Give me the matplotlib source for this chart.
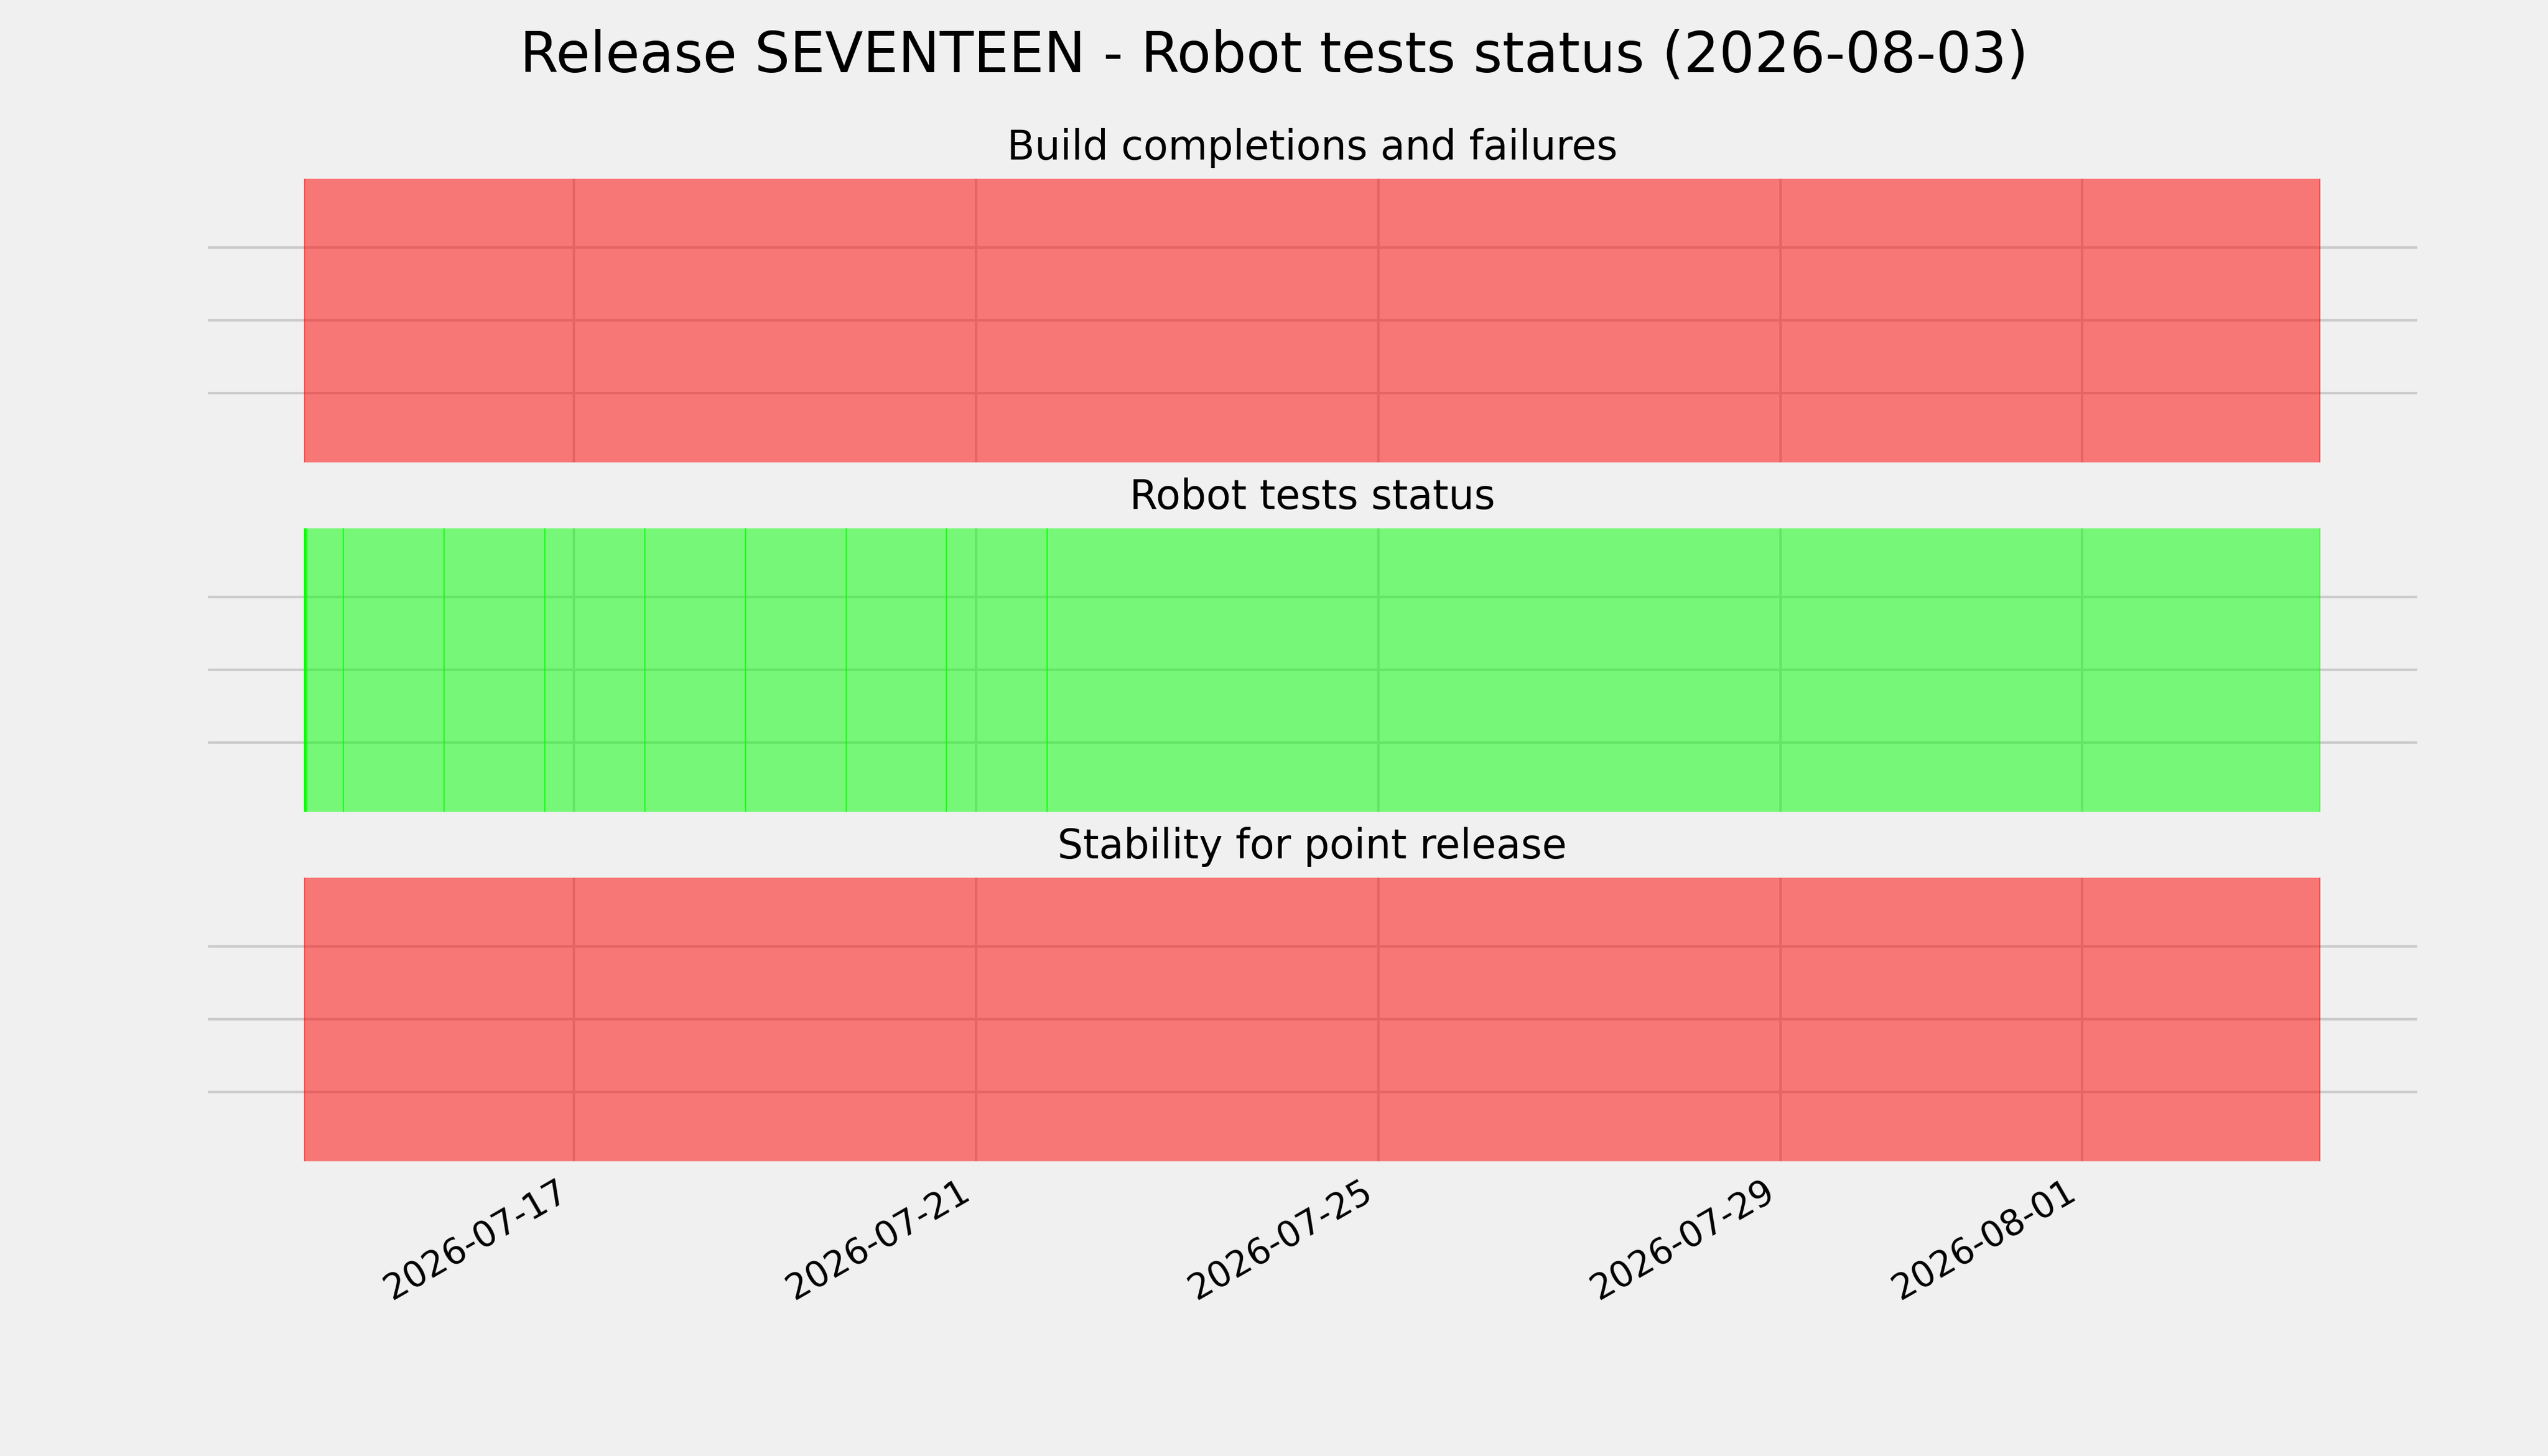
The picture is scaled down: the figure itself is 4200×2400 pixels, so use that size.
from datetime import datetime
from matplotlib import pyplot as plt

release = "SEVENTEEN"
report_date = "2026-08-03"

# build completions: one span, failed over the whole period
build_starts = ["2026-07-14 07:38"]
build_ends = ["2026-08-03 08:47"]
build_status = ["fail"]

# robot tests: first runs close together, then one result per day, all passing
robot_starts = ["2026-07-14 07:38", "2026-07-14 07:38", "2026-07-14 07:38",
                "2026-07-14 16:55", "2026-07-15 16:55", "2026-07-16 16:55",
                "2026-07-17 16:55", "2026-07-18 16:55", "2026-07-19 16:55",
                "2026-07-20 16:55", "2026-07-21 16:55"]
robot_ends = ["2026-07-14 07:58", "2026-07-14 08:15", "2026-07-14 16:55",
              "2026-07-15 16:55", "2026-07-16 16:55", "2026-07-17 16:55",
              "2026-07-18 16:55", "2026-07-19 16:55", "2026-07-20 16:55",
              "2026-07-21 16:55", "2026-08-03 08:47"]
robot_status = ["pass"] * 11

# stability for point release
stability_starts = ["2026-07-14 07:38"]
stability_ends = ["2026-08-03 08:47"]
stability_status = ["fail"]

colors = {"pass": "lime", "fail": "red"}

panels = [("Build completions and failures", build_starts, build_ends, build_status),
          ("Robot tests status", robot_starts, robot_ends, robot_status),
          ("Stability for point release", stability_starts, stability_ends, stability_status)]

plt.style.use("fivethirtyeight")
fig, axes = plt.subplots(3, 1, sharex=True, figsize=(14, 8))

for ax, (title, starts, ends, status) in zip(axes, panels):
    for start, end, st in zip(starts, ends, status):
        start = datetime.strptime(start, "%Y-%m-%d %H:%M")
        end = datetime.strptime(end, "%Y-%m-%d %H:%M")
        ax.axvspan(start, end, color=colors[st], alpha=0.5)
    ax.set_title(title, fontsize=16)
    ax.set_ylim(0, 1)
    ax.set_yticks([0.25, 0.5, 0.75])
    ax.tick_params(axis="y", labelleft=False)

fig.suptitle("Release %s - Robot tests status (%s)" % (release, report_date), fontsize=22)
fig.autofmt_xdate()

plt.savefig("out.png", dpi=300)
